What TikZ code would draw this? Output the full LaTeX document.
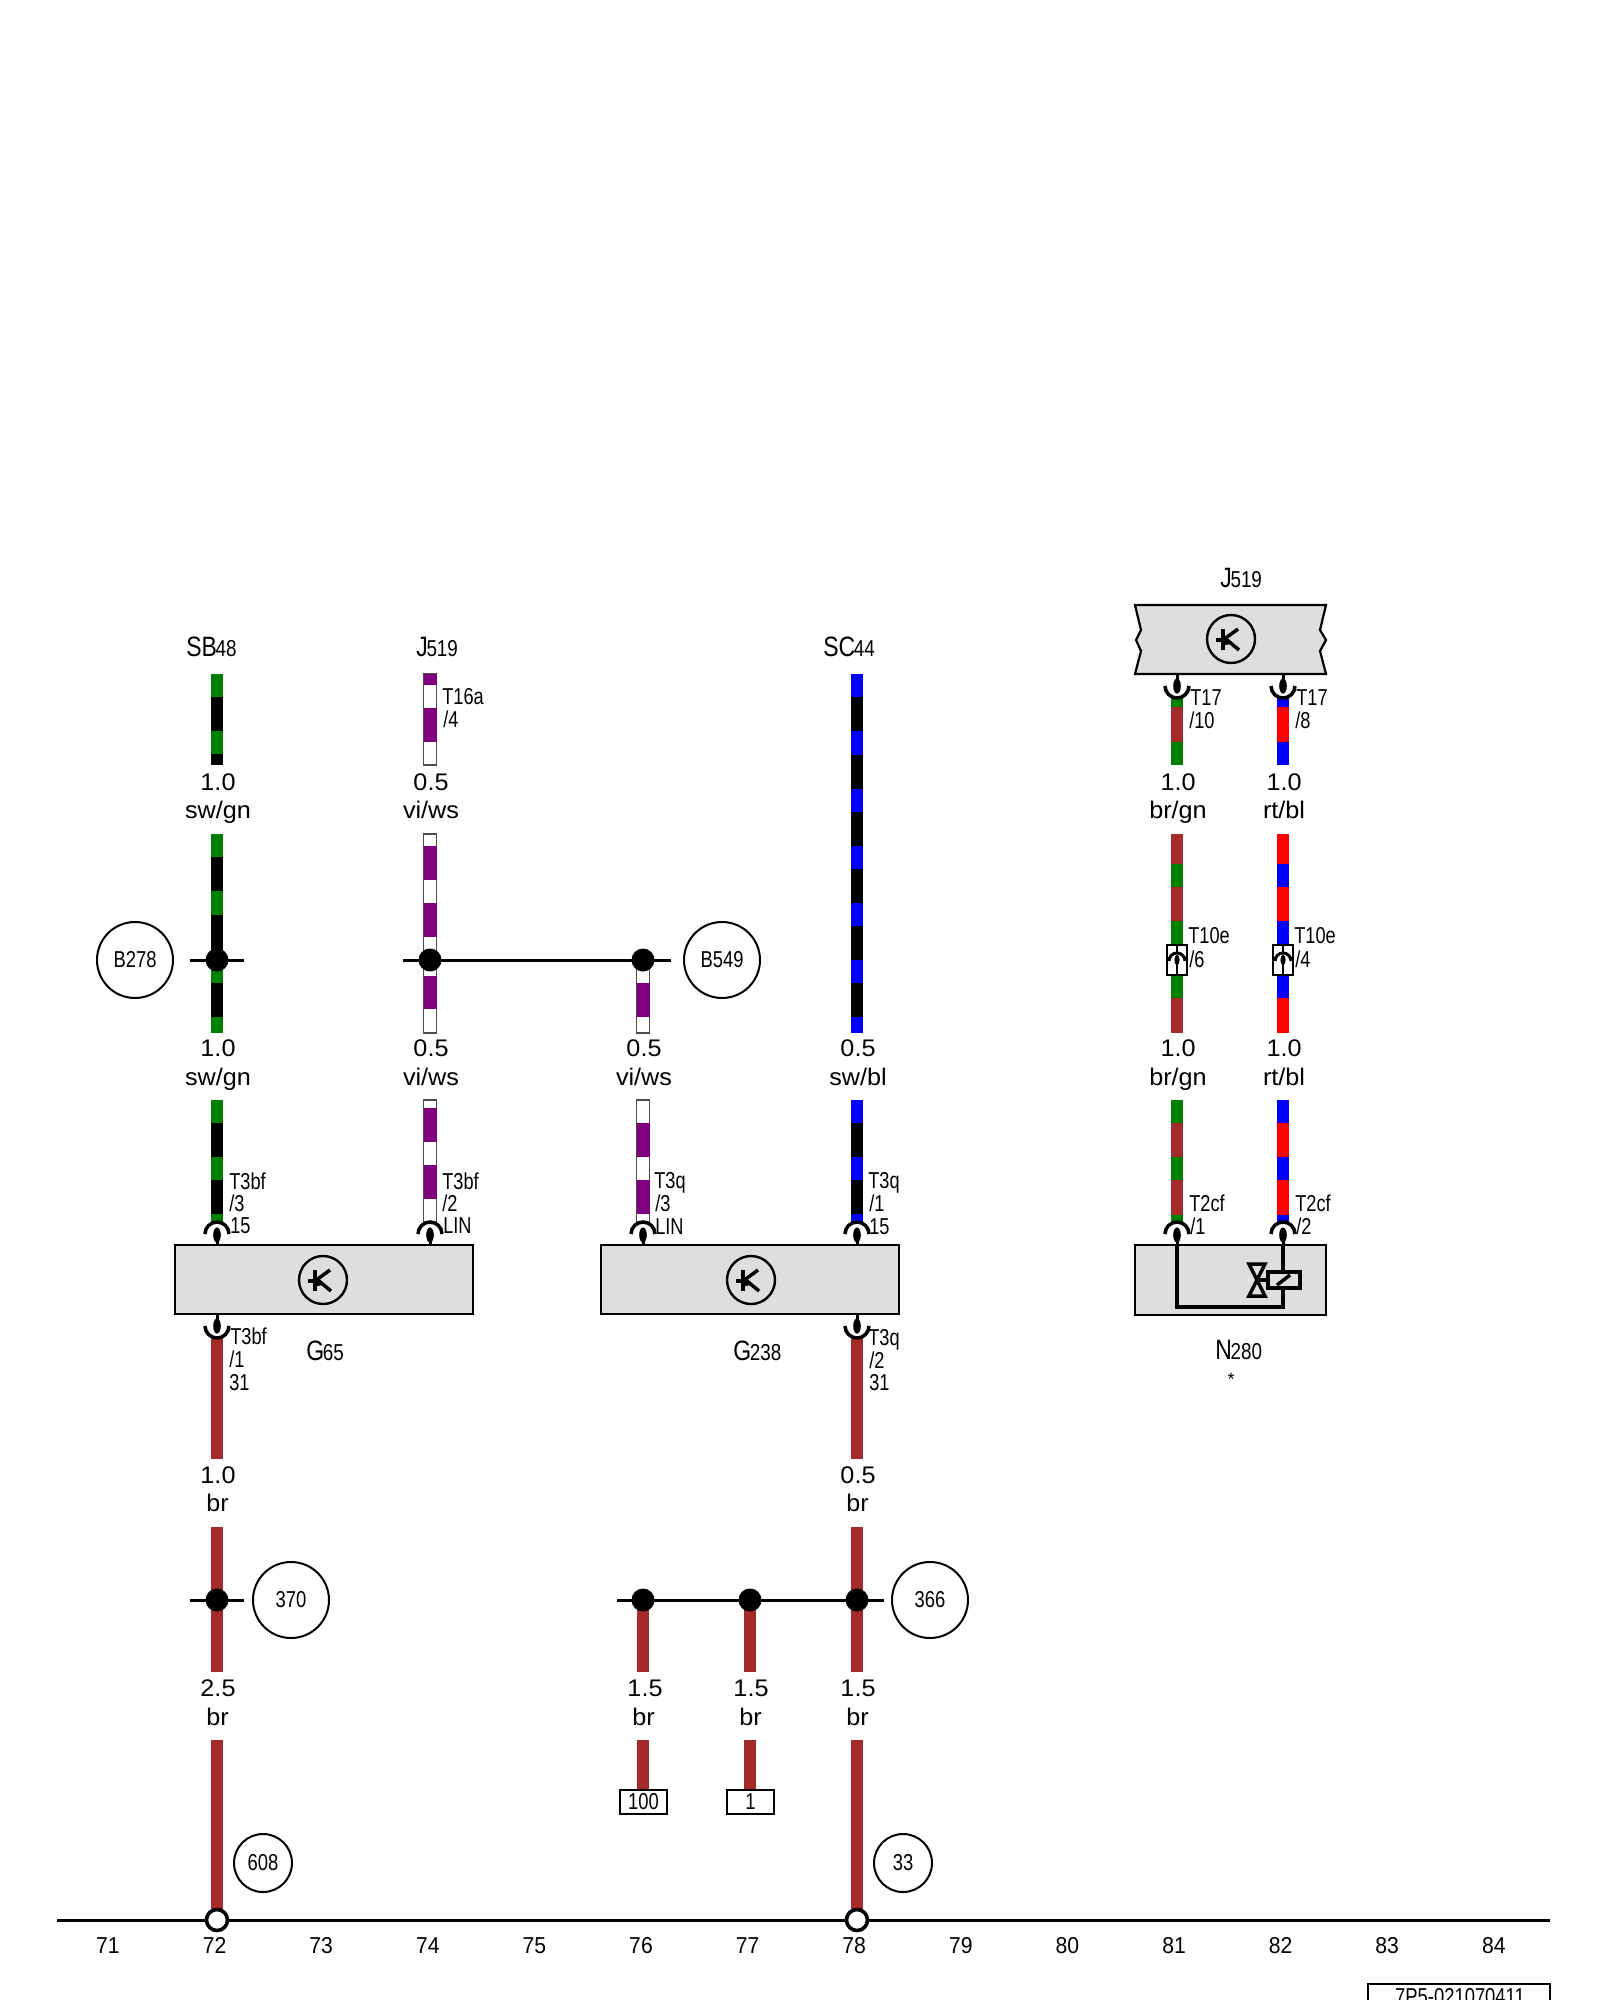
\documentclass[tikz,border=0pt]{standalone}
\usepackage{fontspec}
\setmainfont{Liberation Sans}
\definecolor{wgn}{RGB}{0,128,0}
\definecolor{wbr}{RGB}{165,42,42}
\definecolor{wbl}{RGB}{0,0,255}
\definecolor{wrt}{RGB}{255,0,0}
\definecolor{wvi}{RGB}{128,0,128}
\definecolor{boxgray}{RGB}{222,222,222}
\tikzset{
  lw/.style={line width=1.5pt},
  symline/.style={line width=1.75pt},
  thinbox/.style={line width=1.1pt},
  wirelabel/.style={font=\fontsize{12}{14}\selectfont,xscale=1.05,transform shape,inner sep=0,anchor=base},
  pinlabel/.style={font=\fontsize{11.5}{13}\selectfont,xscale=.79,transform shape,inner sep=0,anchor=base west},
  titlelabel/.style={xscale=.82,transform shape,inner sep=0,anchor=base west},
  ringtext/.style={circle,draw,line width=1pt,inner sep=0,font=\fontsize{11.5}{13}\selectfont},
  collabel/.style={font=\fontsize{11.5}{13}\selectfont,xscale=.92,transform shape,inner sep=0,anchor=base},
  junction/.style={circle,fill=black,inner sep=0,minimum size=11.5pt},
  groundpt/.style={circle,fill=white,draw,line width=1.8pt,inner sep=0,minimum size=10.5pt},
  module/.style={rectangle,draw,fill=boxgray,line width=1.1pt,inner sep=0},
  termbox/.style={rectangle,draw,fill=white,line width=1pt,inner sep=0,minimum width=23.5pt,minimum height=12pt,font=\fontsize{11.5}{13}\selectfont},
}
% striped wire: x, list of y0/y1/colour
\newcommand{\wirefill}[2]{\foreach \a/\b/\c in {#2}{\fill[\c] (#1-5.8,\a) rectangle (#1+5.8,\b);}}
\newcommand{\wirewhite}[3]{\fill[white] (#1-6.5,#2) rectangle (#1+6.5,#3);\draw[line width=.6pt,black!70] (#1-6.5,#2) rectangle (#1+6.5,#3);}
\newcommand{\wirevi}[2]{\foreach \a/\b in {#2}{\fill[wvi] (#1-6.5,\a) rectangle (#1+6.5,\b);}}
% connector pins
\newcommand{\pinup}[2]{\draw[symline] (#1-12,#2+12) arc[start angle=180,end angle=0,radius=6pt];\fill (#1,#2+13) ellipse[x radius=1.9pt,y radius=3.8pt];\draw[lw] (#1,#2+13) -- (#1,#2+23);}
\newcommand{\pindown}[2]{\draw[symline] (#1-12,#2-12) arc[start angle=180,end angle=360,radius=6pt];\fill (#1,#2-12) ellipse[x radius=1.9pt,y radius=3.8pt];\draw[lw] (#1,#2-12) -- (#1,#2-24);}
\newcommand{\plugbox}[2]{\draw[thinbox,fill=white] (#1-10,945) rectangle (#1+10,975);\draw[line width=.6pt] (#1,945) -- (#1,953);\draw[line width=1.5pt] (#1-8,961) arc[start angle=180,end angle=0,radius=4pt];\fill (#1,960) ellipse[x radius=1.3pt,y radius=2.6pt];\draw[line width=1.2pt] (#1,960) -- (#1,975);}
\newcommand{\tsym}[3]{\node[circle,draw,fill=boxgray,line width=1.2pt,minimum size=24pt,inner sep=0] (#1) at (#2,#3) {};
  \begin{scope}[shift={(#2,#3)}]
    \draw[symline] (-8,-10) -- (-8,11);
    \draw[symline] (-15,1) -- (-3,1);
    \draw[symline] (-8,1) -- (7,-10);
    \draw[symline] (-4,1) -- (8,11);
    \fill (-6,-1) -- (0,5) -- (-6,6) -- cycle;
  \end{scope}}
\newcommand{\wl}[4]{\node[wirelabel] (#1a) at (#2,#3) {#4};}
\newcommand{\pl}[4]{\node[pinlabel] (#1) at (#2,#3) {#4};}
\newcommand{\ttl}[5]{\node[titlelabel] (#1) at (#2,#3) {\fontsize{14}{16}\selectfont #4\kern-.8pt\fontsize{11.5}{13}\selectfont #5};}
\begin{document}
\begin{tikzpicture}[x=.5pt,y=-.5pt]
\useasboundingbox (0,0) rectangle (1600,2000);
\clip (0,0) rectangle (1600,2000);
\fill[white] (0,0) rectangle (1600,2000);

% --- wires column 1 (x=217)
\wirefill{217}{674/697/wgn,697/731/black,731/754/wgn,754/765/black}
\wirefill{217}{834/857/wgn,857/891/black,891/915/wgn,915/960/black,960/983/wgn,983/1017/black,1017/1033/wgn}
\wirefill{217}{1100/1123/wgn,1123/1157/black,1157/1180/wgn,1180/1214/black,1214/1223/wgn}
\wirefill{217}{1338/1459/wbr,1527/1672/wbr,1740/1920/wbr}
% --- wires column 2 (x=430)
\wirewhite{430}{674}{765}\wirevi{430}{674/685,708/742}
\wirewhite{430}{834}{1033}\wirevi{430}{846/880,903/937,976/1009}
\wirewhite{430}{1100}{1223}\wirevi{430}{1108/1142,1165/1199}
% --- wires column 3 (x=643)
\wirewhite{643}{960}{1033}\wirevi{643}{983/1017}
\wirewhite{643}{1100}{1223}\wirevi{643}{1123/1157,1180/1214}
\wirefill{643}{1600/1672/wbr,1740/1790/wbr}
% --- column 750
\wirefill{750}{1600/1672/wbr,1740/1790/wbr}
% --- wires column 4 (x=857)
\wirefill{857}{674/697/wbl,697/731/black,731/755/wbl,755/789/black,789/812/wbl,812/846/black,846/869/wbl,869/903/black,903/926/wbl,926/960/black,960/983/wbl,983/1017/black,1017/1033/wbl}
\wirefill{857}{1100/1123/wbl,1123/1157/black,1157/1180/wbl,1180/1214/black,1214/1223/wbl}
\wirefill{857}{1338/1459/wbr,1527/1672/wbr,1740/1920/wbr}
% --- wires column 5 (x=1177)
\wirefill{1177}{696/707/wgn,707/742/wbr,742/765/wgn}
\wirefill{1177}{834/864/wbr,864/887/wgn,887/921/wbr,921/998/wgn,998/1033/wbr}
\wirefill{1177}{1100/1123/wgn,1123/1157/wbr,1157/1180/wgn,1180/1215/wbr,1215/1223/wgn}
% --- wires column 6 (x=1283)
\wirefill{1283}{696/707/wbl,707/742/wrt,742/765/wbl}
\wirefill{1283}{834/864/wrt,864/887/wbl,887/921/wrt,921/998/wbl,998/1033/wrt}
\wirefill{1283}{1100/1123/wbl,1123/1157/wrt,1157/1180/wbl,1180/1215/wrt,1215/1223/wbl}

% --- modules
\draw[module] (175,1245) rectangle (473,1314);
\draw[module] (601,1245) rectangle (899,1314);
\draw[module] (1135,1245) rectangle (1326,1315);
\draw[module] (1135,605) -- (1326,605) -- (1320,630) -- (1326,640) -- (1320,651) -- (1326,674) -- (1135,674) -- (1141,651) -- (1136,640) -- (1141,630) -- cycle;
\tsym{sym1}{323}{1280}
\tsym{sym2}{751}{1280}
\tsym{sym3}{1231}{639}

% --- N280 internals
\coordinate (npa) at (1177,1245);
\coordinate (npb) at (1177,1307);
\coordinate (npc) at (1283,1307);
\coordinate (npd) at (1283,1245);
\draw[symline] (npa) -- (npb) -- (npc) -- (npd);
\draw[symline,fill=boxgray] (1268,1272) rectangle (1300,1288);
\draw[symline] (1277,1285) -- (1290,1275);
\draw[symline,line join=miter] (1249,1264) -- (1265,1264) -- (1249,1296) -- (1265,1296) -- cycle;
\draw[symline] (1257,1280) -- (1268,1280);

% --- connectors
\pinup{217}{1222}\pinup{430}{1222}\pinup{643}{1222}\pinup{857}{1222}\pinup{1177}{1222}\pinup{1283}{1222}
\pindown{217}{1338}\pindown{857}{1338}
\pindown{1177}{698}\pindown{1283}{698}
\plugbox{1177}{}\plugbox{1283}{}

% --- junctions and bus lines
\node[junction] (j1) at (217,960) {};
\node[junction] (j2) at (430,960) {};
\node[junction] (j3) at (643,960) {};
\coordinate (l1a) at (190,960); \coordinate (l1b) at (244,960);
\coordinate (l2a) at (403,960); \coordinate (l2b) at (671,960);
\draw[lw] (l1a) -- (l1b);
\draw[lw] (l2a) -- (l2b);
\node[junction] (j4) at (217,1600) {};
\node[junction] (j5) at (643,1600) {};
\node[junction] (j6) at (750,1600) {};
\node[junction] (j7) at (857,1600) {};
\coordinate (l3a) at (190,1600); \coordinate (l3b) at (244,1600);
\coordinate (l4a) at (617,1600); \coordinate (l4b) at (884,1600);
\draw[lw] (l3a) -- (l3b);
\draw[lw] (l4a) -- (l4b);

% --- ground line
\coordinate (gnda) at (57,1920); \coordinate (gndb) at (1550,1920);
\draw[lw] (gnda) -- (gndb);
\node[groundpt] (g1) at (217,1920) {};
\node[groundpt] (g2) at (857,1920) {};

% --- ring references
\node[ringtext,minimum size=38pt] (rB278) at (135,960) {\scalebox{.8}[1]{B278}};
\node[ringtext,minimum size=38pt] (rB549) at (722,960) {\scalebox{.8}[1]{B549}};
\node[ringtext,minimum size=38pt] (r370) at (291,1600) {\scalebox{.8}[1]{370}};
\node[ringtext,minimum size=38pt] (r366) at (930,1600) {\scalebox{.8}[1]{366}};
\node[ringtext,minimum size=29pt] (r608) at (263,1863) {\scalebox{.8}[1]{608}};
\node[ringtext,minimum size=29pt] (r33) at (903,1863) {\scalebox{.8}[1]{33}};

% --- terminal boxes
\node[termbox] (t100) at (643.5,1802) {\scalebox{.8}[1]{100}};
\node[termbox] (t1) at (750.5,1802) {\scalebox{.8}[1]{1}};

% --- wire labels
\wl{a1}{218}{790}{1.0}\wl{a2}{218}{818}{sw/gn}
\wl{a3}{431}{790}{0.5}\wl{a4}{431}{818}{vi/ws}
\wl{a5}{1178}{790}{1.0}\wl{a6}{1178}{818}{br/gn}
\wl{a7}{1284}{790}{1.0}\wl{a8}{1284}{818}{rt/bl}
\wl{b1}{218}{1056}{1.0}\wl{b2}{218}{1085}{sw/gn}
\wl{b3}{431}{1056}{0.5}\wl{b4}{431}{1085}{vi/ws}
\wl{b5}{644}{1056}{0.5}\wl{b6}{644}{1085}{vi/ws}
\wl{b7}{858}{1056}{0.5}\wl{b8}{858}{1085}{sw/bl}
\wl{b9}{1178}{1056}{1.0}\wl{b10}{1178}{1085}{br/gn}
\wl{b11}{1284}{1056}{1.0}\wl{b12}{1284}{1085}{rt/bl}
\wl{c1}{218}{1483}{1.0}\wl{c2}{217.5}{1511}{br}
\wl{c3}{858}{1483}{0.5}\wl{c4}{857.5}{1511}{br}
\wl{d1}{218}{1696}{2.5}\wl{d2}{217.5}{1725}{br}
\wl{d3}{645}{1696}{1.5}\wl{d4}{643.5}{1725}{br}
\wl{d5}{751}{1696}{1.5}\wl{d6}{750.5}{1725}{br}
\wl{d7}{858}{1696}{1.5}\wl{d8}{857.5}{1725}{br}

% --- pin labels
\pl{p1}{442}{704}{T16a}\pl{p2}{443}{727}{/4}
\pl{p3}{1190}{705}{T17}\pl{p4}{1189}{728}{/10}
\pl{p5}{1296}{705}{T17}\pl{p6}{1295}{728}{/8}
\pl{p7}{1188}{943}{T10e}\pl{p8}{1189}{967}{/6}
\pl{p9}{1294}{943}{T10e}\pl{p10}{1295}{967}{/4}
\pl{p11}{1189}{1211}{T2cf}\pl{p12}{1190}{1234}{/1}
\pl{p13}{1295}{1211}{T2cf}\pl{p14}{1296}{1234}{/2}
\pl{p15}{229}{1189}{T3bf}\pl{p16}{229}{1211}{/3}\pl{p17}{230}{1233}{15}
\pl{p18}{442}{1189}{T3bf}\pl{p19}{442}{1211}{/2}\pl{p20}{443}{1233}{LIN}
\pl{p21}{654}{1188}{T3q}\pl{p22}{655}{1211}{/3}\pl{p23}{655}{1234}{LIN}
\pl{p24}{868}{1188}{T3q}\pl{p25}{869}{1211}{/1}\pl{p26}{869}{1234}{15}
\pl{p27}{230}{1344}{T3bf}\pl{p28}{229}{1367}{/1}\pl{p29}{229}{1390}{31}
\pl{p30}{868}{1345}{T3q}\pl{p31}{869}{1368}{/2}\pl{p32}{869}{1390}{31}

% --- titles
\ttl{t1}{186}{656}{SB}{48}
\ttl{t2}{416}{656}{J}{519}
\ttl{t3}{823}{656}{SC}{44}
\ttl{t4}{1220}{587}{J}{519}
\ttl{t5}{1215}{1359}{N}{280}
\ttl{t6}{306}{1360}{G}{65}
\ttl{t7}{733}{1360}{G}{238}
\node[inner sep=0,font=\fontsize{9}{10}\selectfont] (star) at (1231,1379) {*};

% --- column numbers
\foreach \n [count=\k from 0] in {71,72,73,74,75,76,77,78,79,80,81,82,83,84}{
  \node[collabel] (col\n) at (108+106.6*\k,1953) {\n};
}

% --- reference box
\draw[line width=1.1pt] (1368,2010) -- (1368,1984) -- (1550,1984) -- (1550,2010);
\node[font=\fontsize{11.5}{13}\selectfont,xscale=.8,transform shape,inner sep=0,anchor=base] (ref) at (1460,2004) {7P5-021070411};
\end{tikzpicture}
\end{document}
